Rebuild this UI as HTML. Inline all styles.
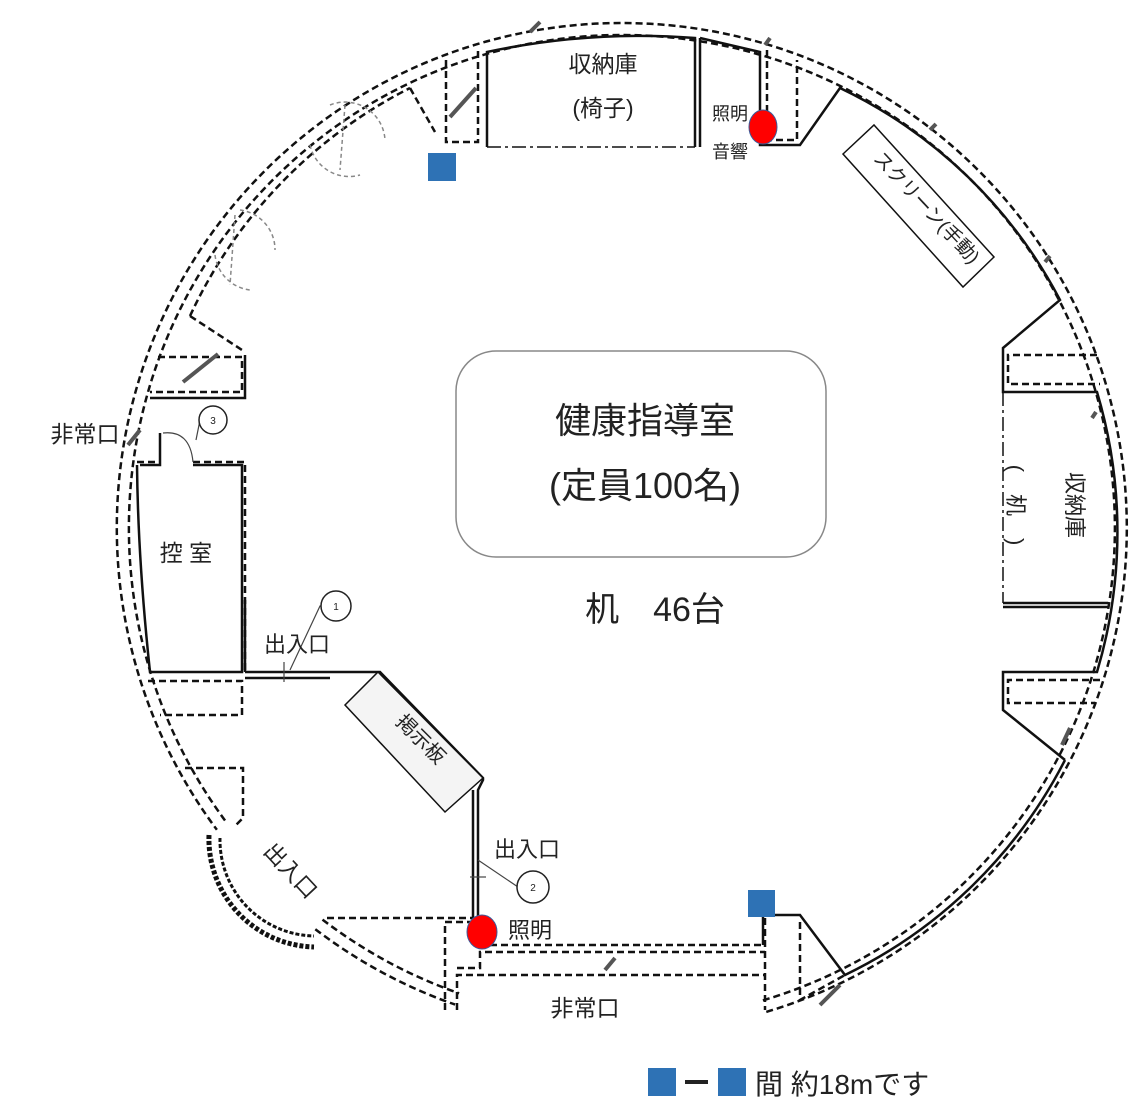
<!DOCTYPE html>
<html><head><meta charset="utf-8"><style>
html,body{margin:0;padding:0;background:#fff;}
svg{display:block;}
text{font-family:"Liberation Sans","Noto Sans CJK JP",sans-serif;fill:#222;}
</style></head><body>
<svg width="1145" height="1111" viewBox="0 0 1145 1111" xmlns="http://www.w3.org/2000/svg">
<g fill="none" stroke="#111" stroke-width="2.5" stroke-dasharray="7 4">
  <path d="M766.3,1011.9 A505,505 0 1 0 216.9,829.8"/>
  <path d="M762.9,1000.4 A493,493 0 1 0 226.6,822.6"/>
  <path d="M315.3,929.2 A505,505 0 0 0 455.1,1004.6"/>
  <path d="M322.5,919.6 A493,493 0 0 0 459.1,993.3"/>
  <path d="M190,316 A483,483 0 0 1 410,88"/>
  <path d="M410,88 L435,132"/>
  <path d="M190,316 L242,350"/>
  <path d="M446,60 L446,142 L478,142 L478,50"/>
  <path d="M158,357 L242,357 L242,392 L150,392"/>
  <path d="M767,50 L767,140 L797,140 L797,60"/>
  <path d="M1097,355 L1008,355 L1008,384 L1100,384"/>
  <path d="M1100,680 L1008,680 L1008,703 L1095,703"/>
  <path d="M148,681 L242,681 L242,715 L160,715"/>
  <path d="M185,768 L243,768 L243,818 L235,826"/>
  <path d="M137,462 L160,462"/>
  <path d="M193,462 L245,462 L245,670"/>
  <path d="M327,918 L485,918"/>
  <path d="M445,1010 L445,922 L470,922"/>
  <path d="M457,1010 L457,975 L765,975"/>
  <path d="M457,968 L480,968 L480,952 L765,952"/>
  <path d="M490,945 L762,945"/>
  <path d="M765,918 L765,1010"/>
  <path d="M800,922 L800,1000 L845,975"/>
</g>
<g fill="none" stroke="#888" stroke-width="1.5" stroke-dasharray="4 3">
  <path d="M330,105 A40,40 0 0 1 385,140"/>
  <path d="M310,145 A40,40 0 0 0 360,175"/>
  <path d="M345,105 L340,170"/>
  <path d="M240,210 A40,40 0 0 1 275,250"/>
  <path d="M215,255 A40,40 0 0 0 250,290"/>
  <path d="M235,215 L230,285"/>
</g>
<g fill="none" stroke="#111" stroke-width="2.5">
  <path d="M487,147 L487,52 Q590,30 695,38 L695,147"/>
  <path d="M700,38 L700,147"/>
  <path d="M700,38 L760,52 L760,145 L800,145 L840,88 A483,483 0 0 1 1060,300 L1003,348 L1003,392 L1097,392 A490,490 0 0 1 1097,672 L1003,672 L1003,710 L1065,760"/>
  <path d="M1065,760 A483,483 0 0 1 845,975 L800,915 L765,915"/>
  <path d="M1003,603 L1108,603"/><path d="M1003,607 L1108,607"/>
  <path d="M245,355 L245,398 L150,398"/>
  <path d="M140,465 L160,465 L160,433"/>
  <path d="M193,465 L242,465 L242,672 L150,672 Q138,560 137,465"/>
  <path d="M245,600 L245,672"/>
  <path d="M245,672 L380,672 L483,778 L483,780 L478,790 L478,918"/>
  <path d="M245,678 L330,678"/>
  <path d="M473,790 L473,918"/>
  <path d="M763,905 L763,945"/>
</g>
<g fill="none" stroke="#111" stroke-width="5" stroke-dasharray="4 2">
  <path d="M209,835 A108,108 0 0 0 314,947"/>
</g>
<g fill="none" stroke="#111" stroke-width="3" stroke-dasharray="4 2">
  <path d="M220,838 A96,96 0 0 0 314,936"/>
</g>
<g fill="none" stroke="#111" stroke-width="1.5" stroke-dasharray="14 4 3 4">
  <path d="M487,147 L695,147"/>
  <path d="M1003,392 L1003,603"/>
</g>
<g stroke="#555" stroke-width="4">
  <path d="M450,117 L476,88"/><path d="M183,382 L218,354"/><path d="M128,445 L140,430"/>
  <path d="M530,32 L540,22"/><path d="M765,45 L770,38"/><path d="M930,130 L936,124"/>
  <path d="M1045,262 L1050,256"/><path d="M605,970 L615,958"/><path d="M820,1005 L840,985"/>
  <path d="M1092,418 L1096,412"/><path d="M1062,745 L1070,728"/>
</g>
<g stroke="#444" stroke-width="1.2" fill="none">
  <path d="M163,433 Q190,430 193,462"/>
  <path d="M196,440 L200,420 L213,420"/>
  <path d="M290,670 L320,606 L336,606"/>
  <path d="M478,860 L518,887"/>
  <path d="M284,662 L284,682"/><path d="M470,877 L486,877"/>
</g>
<g fill="#fff" stroke="#222" stroke-width="1.5">
  <circle cx="213" cy="420" r="14"/><circle cx="336" cy="606" r="15"/><circle cx="533" cy="887" r="16"/>
</g>
<g font-size="10" text-anchor="middle"><text x="213" y="424">3</text><text x="336" y="610">1</text><text x="533" y="891">2</text></g>
<rect x="456" y="351" width="370" height="206" rx="40" fill="none" stroke="#888" stroke-width="1.5"/>
<polygon points="843,154 874,125 994,257 963,287" fill="#fff" stroke="#111" stroke-width="1.5"/>
<polygon points="345,705 378,672 483,778 445,812" fill="#f4f4f4" stroke="#111" stroke-width="1.5"/>
<ellipse cx="763" cy="127" rx="14" ry="17" fill="#f00" stroke="#3a5a9a" stroke-width="1"/>
<ellipse cx="482" cy="932" rx="15" ry="17" fill="#f00" stroke="#3a5a9a" stroke-width="1"/>
<rect x="428" y="153" width="28" height="28" fill="#2e72b5"/>
<rect x="748" y="890" width="27" height="27" fill="#2e72b5"/>
<rect x="648" y="1068" width="28" height="28" fill="#2e72b5"/>
<rect x="718" y="1068" width="28" height="28" fill="#2e72b5"/>
<rect x="685" y="1080" width="23" height="4" fill="#222"/>
<text x="645" y="433" font-size="36" text-anchor="middle">健康指導室</text>
<text x="645" y="498" font-size="36" text-anchor="middle">(定員100名)</text>
<text x="655" y="621" font-size="34" text-anchor="middle">机　46台</text>
<text x="603" y="72" font-size="23" text-anchor="middle">収納庫</text>
<text x="603" y="116" font-size="23" text-anchor="middle">(椅子)</text>
<text x="730" y="120" font-size="18" text-anchor="middle">照明</text>
<text x="730" y="158" font-size="18" text-anchor="middle">音響</text>
<text x="186" y="561" font-size="23" text-anchor="middle">控 室</text>
<text x="85" y="442" font-size="23" text-anchor="middle">非常口</text>
<text x="297" y="652" font-size="22" text-anchor="middle">出入口</text>
<text x="527" y="857" font-size="22" text-anchor="middle">出入口</text>
<text x="530" y="938" font-size="22" text-anchor="middle">照明</text>
<text x="585" y="1016" font-size="23" text-anchor="middle">非常口</text>
<text font-size="22" text-anchor="middle" transform="translate(285,876) rotate(47)">出入口</text>
<text font-size="20" text-anchor="middle" transform="translate(416,744) rotate(45)">掲示板</text>
<text font-size="19" text-anchor="middle" transform="translate(922,212) rotate(47)">スクリーン(手動)</text>
<text font-size="22" text-anchor="middle" transform="translate(1067,505) rotate(90)">収納庫</text>
<text font-size="22" text-anchor="middle" transform="translate(1008,505) rotate(90)">(　机　)</text>
<text x="755" y="1094" font-size="28">間 約18mです</text>
</svg>
</body></html>
